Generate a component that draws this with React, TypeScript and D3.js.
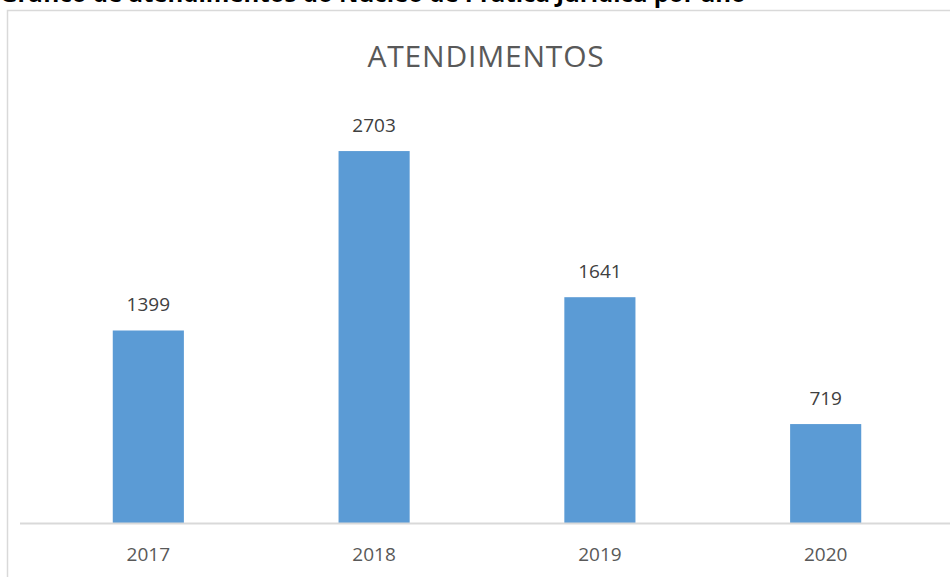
import React from 'react'
import * as d3 from 'd3'

const years = ['2017', '2018', '2019', '2020']
const atendimentos = [1399, 2703, 1641, 719]
const chartTitle = 'ATENDIMENTOS'
const captionText = 'Gráfico de atendimentos do Núcleo de Prática Jurídica por ano'

const W = 950
const H = 577

export default function App() {
    const x = d3.scaleBand().domain(years).range([36, 938]).paddingInner(0.685).paddingOuter(0.34)
    const y = d3.scaleLinear().domain([0, 3000]).range([523, 110.2])
    const font = '"Open Sans", "Noto Sans", sans-serif'

    return (
        <div style={{ position: 'fixed', left: 0, top: 0 }}>
            <svg width={W} height={H} style={{ display: 'block', background: '#fff' }}>
                {/* caption cut off at the top of the picture */}
                <text x={0} y={2} fontFamily={font} fontWeight="bold" fontSize={24} fill="#000">
                    {captionText}
                </text>
                {/* chart frame */}
                <path d={`M7.5,${H} V10.5 H${W}`} fill="none" stroke="#d9d9d9" strokeWidth={1.5} />
                <text x={486} y={67} textAnchor="middle" fontFamily={font} fontSize={30} letterSpacing={0.8} fill="#595959">
                    {chartTitle}
                </text>
                {atendimentos.map((v, i) => (
                    <g key={years[i]}>
                        <rect x={x(years[i])} y={y(v)} width={x.bandwidth()} height={y(0) - y(v)} fill="#5b9bd5" />
                        <text x={(x(years[i]) as number) + x.bandwidth() / 2} y={y(v) - 19} textAnchor="middle"
                            fontFamily={font} fontSize={19} fill="#404040">{v}</text>
                        <text x={(x(years[i]) as number) + x.bandwidth() / 2} y={561} textAnchor="middle"
                            fontFamily={font} fontSize={19} fill="#595959">{years[i]}</text>
                    </g>
                ))}
                <line x1={20} x2={W} y1={y(0) + 0.5} y2={y(0) + 0.5} stroke="#d9d9d9" strokeWidth={2} />
            </svg>
        </div>
    )
}
